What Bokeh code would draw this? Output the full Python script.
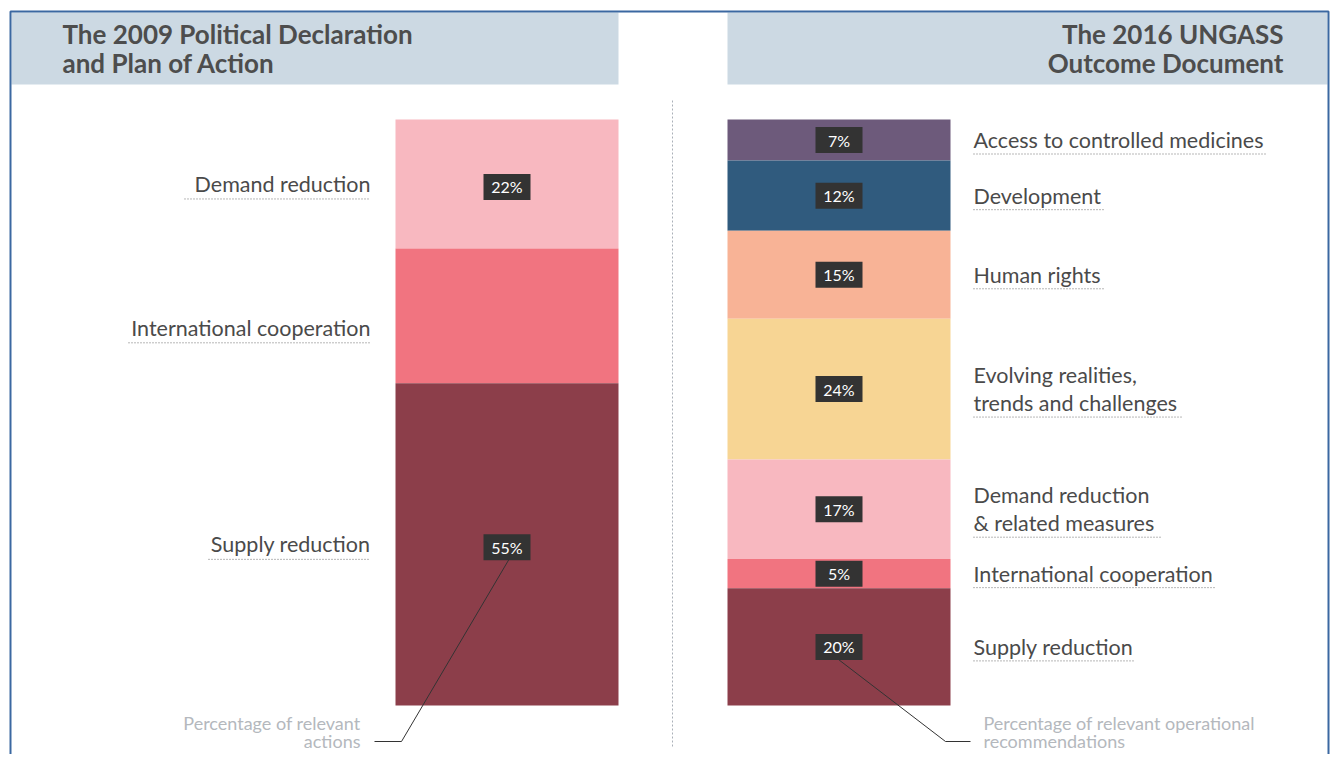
from bokeh.plotting import figure
from bokeh.models import Range1d
from bokeh.embed import file_html
from bokeh.resources import INLINE
from bokeh.core.properties import value
import numpy as np

# ---------------- data ----------------
title_2009 = ["The 2009 Political Declaration", "and Plan of Action"]
title_2016 = ["The 2016 UNGASS", "Outcome Document"]

cats_2009 = ["Demand reduction", "International cooperation", "Supply reduction"]
vals_2009 = [22, 23, 55]
show_2009 = [True, False, True]
colors_2009 = ["#f8b8c0", "#f17480", "#8c3e4a"]

cats_2016 = ["Access to controlled medicines", "Development", "Human rights",
             "Evolving realities,\ntrends and challenges",
             "Demand reduction\n& related measures",
             "International cooperation", "Supply reduction"]
vals_2016 = [7, 12, 15, 24, 17, 5, 20]
colors_2016 = ["#6d5a7b", "#305b7e", "#f8b396", "#f7d594", "#f8b8c0", "#f17480", "#8c3e4a"]

note_2009 = ["Percentage of relevant", "actions"]
note_2016 = ["Percentage of relevant operational", "recommendations"]

# ---------------- layout ----------------
W, H = 1330, 754
FONT = "Lato"
TXT = "#4a4a4a"
PX_PER_PCT = 5.86          # vertical pixels per percent
BAR_BASE = 705             # pixel of the 0% line
PCT_PER_PX = 1 / PX_PER_PCT

p = figure(width=W, height=H, output_backend="svg", toolbar_location=None,
           x_range=Range1d(0, W), y_range=Range1d(H, 0),
           x_axis_type=None, y_axis_type=None, min_border=0,
           min_border_left=0, min_border_right=0, min_border_top=0, min_border_bottom=0)
p.extra_y_ranges = {"pct": Range1d((BAR_BASE - H) * PCT_PER_PX, BAR_BASE * PCT_PER_PX)}
p.outline_line_color = None
p.grid.visible = False
p.background_fill_color = "white"
p.border_fill_color = "white"

# frame + headers
p.quad(left=[11, 727], right=[618, 1327], top=[12, 12], bottom=[84, 84],
       fill_color="#ccd9e3", line_color=None)
p.quad(left=[10], right=[1328], top=[11], bottom=[H + 20], fill_color=None,
       line_color="#3b68a1", line_width=2)

# titles
p.text(x=[62, 62], y=[33, 62], text=title_2009, text_font=value(FONT),
       text_font_size="26px", text_font_style="bold", text_color="#4d4d4d",
       text_baseline="middle", text_align="left")
p.text(x=[1283, 1283], y=[33, 62], text=title_2016, text_font=value(FONT),
       text_font_size="26px", text_font_style="bold", text_color="#4d4d4d",
       text_baseline="middle", text_align="right")

# divider
p.segment(x0=[672], x1=[672], y0=[100], y1=[748], line_color="#aab0b8",
          line_width=1, line_dash="2 2")


def stack(vals):
    v = np.array(vals, dtype=float)
    top = 100 - np.concatenate([[0], np.cumsum(v)[:-1]])
    bottom = top - v
    return top, bottom, (top + bottom) / 2


NOTE_Y = 741
note_pct = (BAR_BASE - NOTE_Y) * PCT_PER_PX

# ---- left bar (2009) ----
xl = 506.5
top, bot, mid = stack(vals_2009)
p.vbar(x=xl, width=223, top=top, bottom=bot, fill_color=colors_2009,
       line_color=None, y_range_name="pct")

# leader line from 55% box
sup = mid[2]
p.line(x=[xl + 2, 401, 374], y=[sup - 15 * PCT_PER_PX, note_pct, note_pct],
       line_color="#333333", line_width=1, y_range_name="pct")

lab_mid = [m - 3 * PCT_PER_PX for m, s in zip(mid, show_2009) if s]
lab_txt = [f"{v}%" for v, s in zip(vals_2009, show_2009) if s]
p.rect(x=[xl] * len(lab_mid), y=lab_mid, width=47, height=26, width_units="screen",
       height_units="screen", fill_color="#333333", line_color=None, y_range_name="pct")
p.text(x=[xl] * len(lab_mid), y=lab_mid, text=lab_txt, text_font=value(FONT),
       text_font_size="16px", text_color="white", text_align="center",
       text_baseline="middle", y_range_name="pct")

# left category labels
lab_y = list(mid)
lab_y[1] = mid[1] - 12 * PCT_PER_PX
p.text(x=[370] * 3, y=lab_y, text=cats_2009, text_font=value(FONT),
       text_font_size="21.5px", text_color=TXT, text_align="right",
       text_baseline="middle", y_range_name="pct")
ul_left_start = [184, 128, 208]
ul_y = [y - 15 * PCT_PER_PX for y in lab_y]
p.segment(x0=ul_left_start, x1=[370] * 3, y0=ul_y, y1=ul_y, line_color="#6f6f6f",
          line_width=1, line_dash="1 2", y_range_name="pct")

# ---- right bar (2016) ----
xr = 838.5
top, bot, mid = stack(vals_2016)
p.vbar(x=xr, width=223, top=top, bottom=bot, fill_color=colors_2016,
       line_color=None, y_range_name="pct")

sup = mid[-1]
p.line(x=[xr, 945, 970], y=[sup - 13 * PCT_PER_PX, note_pct, note_pct],
       line_color="#333333", line_width=1, y_range_name="pct")

p.rect(x=[xr] * 7, y=list(mid), width=47, height=26, width_units="screen",
       height_units="screen", fill_color="#333333", line_color=None, y_range_name="pct")
p.text(x=[xr] * 7, y=list(mid), text=[f"{v}%" for v in vals_2016], text_font=value(FONT),
       text_font_size="16px", text_color="white", text_align="center",
       text_baseline="middle", y_range_name="pct")

# right category labels (split multi-line)
rx, ry, rt = [], [], []
ul_y = []
for c, m in zip(cats_2016, mid):
    lines = c.split("\n")
    n = len(lines)
    for i, ln in enumerate(lines):
        off = (i - (n - 1) / 2) * 28
        rx.append(973)
        ry.append(m - off * PCT_PER_PX)
        rt.append(ln)
    last_off = ((n - 1) / 2) * 28
    ul_y.append(m - (last_off + 14) * PCT_PER_PX)
p.text(x=rx, y=ry, text=rt, text_font=value(FONT), text_font_size="21.5px",
       text_color=TXT, text_align="left", text_baseline="middle", y_range_name="pct")
ul_right_end = [1265, 1103, 1103, 1181, 1160, 1215, 1133]
p.segment(x0=[973] * 7, x1=ul_right_end, y0=ul_y, y1=ul_y, line_color="#6f6f6f",
          line_width=1, line_dash="1 2", y_range_name="pct")

# notes
p.text(x=[360, 360], y=[722, 740], text=note_2009, text_font=value(FONT),
       text_font_size="18px", text_color="#b4b8bd", text_align="right",
       text_baseline="middle")
p.text(x=[983, 983], y=[722, 740], text=note_2016, text_font=value(FONT),
       text_font_size="18px", text_color="#b4b8bd", text_align="left",
       text_baseline="middle")

open("out.html", "w").write(file_html(p, INLINE))
